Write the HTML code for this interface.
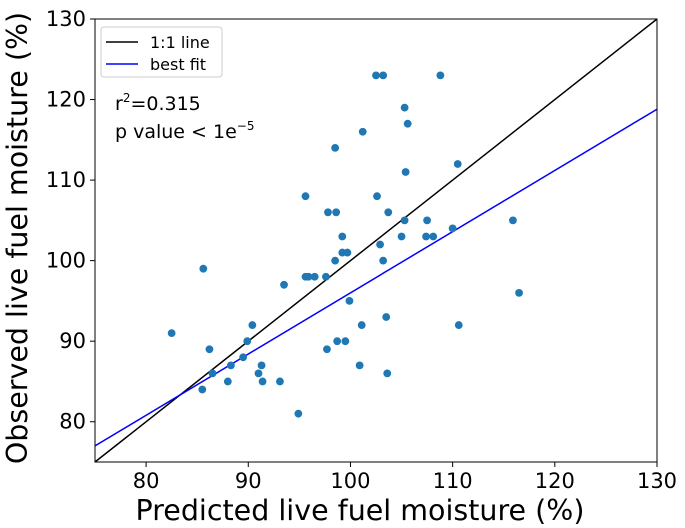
<!DOCTYPE html>
<html><head><meta charset="utf-8"><style>
html,body{margin:0;padding:0;background:#fff;}
svg{display:block;font-family:"DejaVu Sans","Liberation Sans",sans-serif;}
</style></head><body>
<svg id="chart" width="685" height="528"></svg>
<script>
const predicted = [102.5,103.2,108.8,105.3,105.6,101.2,98.5,110.5,105.4,95.6,102.6,97.8,98.6,103.7,105.3,107.5,115.9,110,99.2,105,107.4,108.1,102.9,99.2,99.7,98.5,103.2,85.6,95.6,95.9,96.5,97.6,93.5,116.5,99.9,103.5,90.4,101.1,110.6,82.5,89.9,98.7,99.5,86.2,97.7,89.5,88.3,91.3,100.9,86.5,91,103.6,88,91.4,93.1,85.5,94.9];
const observed = [123,123,123,119,117,116,114,112,111,108,108,106,106,106,105,105,105,104,103,103,103,103,102,101,101,100,100,99,98,98,98,98,97,96,95,93,92,92,92,91,90,90,90,89,89,88,87,87,87,86,86,86,85,85,85,84,81];
const xTicks = [80,90,100,110,120,130];
const yTicks = [80,90,100,110,120,130];
const fitSlope = [0.76];
const fitIntercept = [20];
const xDomain = [75,130];
const yDomain = [75,130];

const L=95,R=657,T=19,B=462;
const NS='http://www.w3.org/2000/svg';
const svg=document.getElementById('chart');
const sx=v=>L+(v-xDomain[0])/(xDomain[1]-xDomain[0])*(R-L);
const sy=v=>B-(v-yDomain[0])/(yDomain[1]-yDomain[0])*(B-T);
function mk(tag,attrs,parent){const e=document.createElementNS(NS,tag);for(const k in attrs)e.setAttribute(k,attrs[k]);(parent||svg).appendChild(e);return e;}

const clip=mk('clipPath',{id:'pc'});mk('rect',{x:L,y:T,width:R-L,height:B-T},clip);

const one=mk('line',{x1:sx(75),y1:sy(75),x2:sx(130),y2:sy(130),stroke:'#000','stroke-width':1.5,'clip-path':'url(#pc)'});


const fy=x=>fitSlope[0]*x+fitIntercept[0];
const fit=mk('line',{x1:sx(75),y1:sy(fy(75)),x2:sx(130),y2:sy(fy(130)),stroke:'#0000ff','stroke-width':1.5,'clip-path':'url(#pc)'});



for(let i=0;i<predicted.length;i++){
  const c=mk('circle',{cx:sx(predicted[i]),cy:sy(observed[i]),r:3.9,fill:'#1f77b4'});
  
  
}

const frame=mk('rect',{x:L,y:T,width:R-L,height:B-T,fill:'none',stroke:'#000','stroke-width':1});



xTicks.forEach(v=>{
  mk('line',{x1:sx(v),y1:B,x2:sx(v),y2:B+5,stroke:'#000'});
  const t=mk('text',{x:sx(v),y:B+26,'text-anchor':'middle','font-size':21});
  t.textContent=v;
  
  
});
yTicks.forEach(v=>{
  mk('line',{x1:L-5,y1:sy(v),x2:L,y2:sy(v),stroke:'#000'});
  const t=mk('text',{x:L-9,y:sy(v)+7,'text-anchor':'end','font-size':21});
  t.textContent=v;
  
  
});
</script>
<div style="position:absolute;left:0;top:0;width:685px;height:528px;pointer-events:none;">
<svg width="685" height="528" style="font-family:'DejaVu Sans','Liberation Sans',sans-serif;">
  <text x="360" y="520" text-anchor="middle" font-size="28.5">Predicted live fuel moisture (%)</text>
  <text transform="translate(27,238) rotate(-90)" text-anchor="middle" font-size="28.5">Observed live fuel moisture (%)</text>
  <g>
    <rect x="101" y="27" width="121" height="50" rx="3" fill="#fff" stroke="#ccc"/>
    <line x1="106" y1="42" x2="138" y2="42" stroke="#000" stroke-width="1.5"/>
    <text x="150" y="48" font-size="16">1:1 line</text>
    <line x1="106" y1="64" x2="138" y2="64" stroke="#0000ff" stroke-width="1.5"/>
    <text x="150" y="70" font-size="16">best fit</text>
  </g>
  <text x="115" y="110" font-size="19">r<tspan dy="-8" font-size="12">2</tspan><tspan dy="8">=0.315</tspan></text>
  <text x="115" y="138" font-size="19">p value &lt; 1e<tspan dy="-8" font-size="12">−5</tspan></text>
</svg>
</div>
</body></html>
